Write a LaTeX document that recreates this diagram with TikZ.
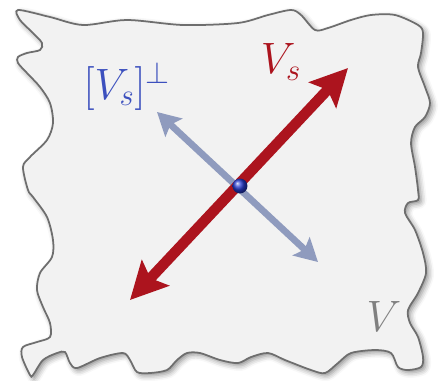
\documentclass[tikz,border=0pt]{standalone}
\usepackage{fix-cm}
\usetikzlibrary{arrows.meta,shadows.blur}
\definecolor{vred}{RGB}{172,20,30}
\definecolor{vperp}{RGB}{143,155,190}
\definecolor{vblue}{RGB}{60,80,190}
\definecolor{vgray}{RGB}{128,128,128}
\definecolor{blobfill}{RGB}{242,242,242}
\definecolor{blobline}{RGB}{110,110,110}
\tikzset{
  lbl/.style={font=\fontsize{25}{30}\selectfont},
  redtip/.tip={Stealth[length=21pt, width=21pt, inset=4pt]},
  perptip/.tip={Stealth[length=13pt, width=14pt, inset=2.5pt]}
}
\begin{document}
\begin{tikzpicture}[x=0.02cm, y=-0.02cm]
\useasboundingbox (0,0) rectangle (438,380);
% the space V
\draw[blobline, line width=1pt, fill=blobfill,
  blur shadow={shadow xshift=1.5pt, shadow yshift=-1.5pt, shadow blur radius=3pt, shadow opacity=45}]
  plot[smooth cycle, tension=0.5] coordinates {
  (18,10) (50,17) (83,25) (127,20) (183,25) (238,23) (268,15) (291,10) (301,15) (315,30)
  (328,28) (351,20) (371,15) (395,15) (418,25) (423,33) (421,53) (418,67) (425,87) (430,103)
  (425,117) (415,127) (411,143) (415,167) (418,190) (418,200) (408,203) (405,213) (415,230) (423,253)
  (426,273) (418,293) (408,310) (410,323) (418,337) (423,357) (421,367) (408,370) (398,367) (391,353)
  (375,350) (351,353) (338,363) (325,373) (311,370) (285,360) (268,353) (251,357) (238,363) (220,360)
  (200,353) (187,353) (177,360) (167,370) (150,373) (137,372) (130,360) (123,353) (100,358) (77,368)
  (70,363) (65,352) (57,353) (43,360) (33,375) (30,375) (22,357) (23,347) (37,342) (50,337)
  (50,323) (43,307) (37,290) (40,273) (52,257) (53,240) (47,217) (33,197) (28,190) (23,167)
  (30,157) (47,140) (53,123) (50,103) (40,87) (27,73) (18,63) (18,57) (27,53) (40,50)
  (42,43) (33,33) (20,20)};
% end points
\coordinate (p1) at (157,112);
\coordinate (p2) at (318,262);
\coordinate (s1) at (130,300);
\coordinate (s2) at (348,68);
\draw[vperp, line width=3.8pt, {perptip}-{perptip}] (p1) -- (p2);
\draw[vred, line width=6pt, {redtip}-{redtip}] (s1) -- (s2);
\node[circle, inner sep=0pt, minimum size=8.5pt, ball color={rgb,255:red,40;green,60;blue,210}] (o) at (240,186) {};
% labels
\node[lbl, text=vblue] (perp) at (127,86) {$[V_s]^\perp$};
\node[lbl, text=vred] (vs) at (281,62) {$V_s$};
\node[lbl, text=vgray] (v) at (384,316) {$V$};
\end{tikzpicture}
\end{document}
